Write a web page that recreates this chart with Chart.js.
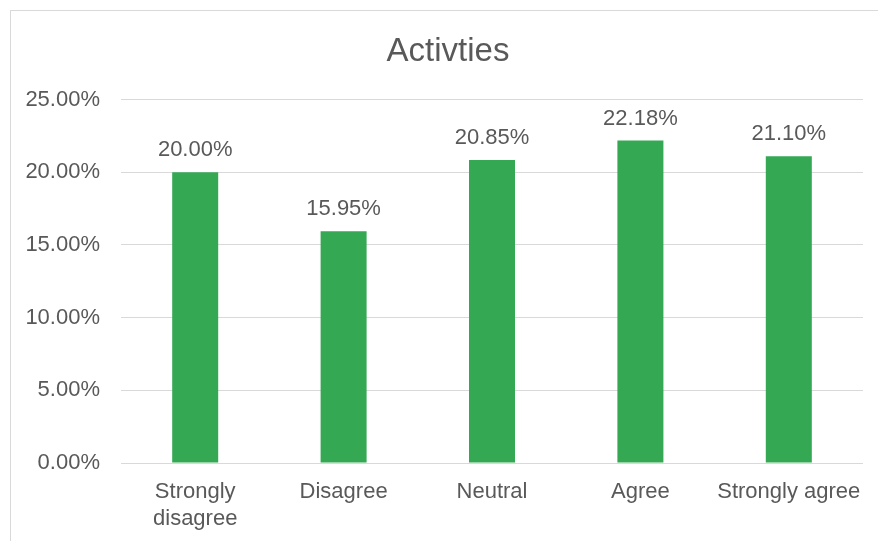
<!DOCTYPE html>
<html>
<head>
<meta charset="utf-8">
<script src="https://cdn.jsdelivr.net/npm/chart.js@4"></script>
<style>
  body { margin: 0; background: #fff; }
  #frame { position: absolute; left: 10px; top: 10px; width: 900px; height: 600px; border: 1px solid #d9d9d9; }
  #activitiesChart { position: absolute; left: 0; top: 0; }
</style>
</head>
<body>
<div id="frame"></div>
<canvas id="activitiesChart" width="878" height="541"></canvas>
<script>
const categories = [["Strongly", "disagree"], "Disagree", "Neutral", "Agree", "Strongly agree"];
const percentValues = [20.00, 15.95, 20.85, 22.18, 21.10];
const yTicks = [0, 5, 10, 15, 20, 25];

const textColor = "#595959";
const fontFamily = "'Liberation Sans', Arial, sans-serif";

// draws the value above each bar
const barLabels = {
    id: "barLabels",
    afterDatasetsDraw(chart) {
        const ctx = chart.ctx;
        const meta = chart.getDatasetMeta(0);
        ctx.save();
        ctx.font = "22px " + fontFamily;
        ctx.fillStyle = textColor;
        ctx.textAlign = "center";
        ctx.textBaseline = "alphabetic";
        meta.data.forEach((bar, i) => {
            ctx.fillText(percentValues[i].toFixed(2) + "%", bar.x, bar.y - 16);
        });
        ctx.restore();
    }
};

// title sits a bit right of the canvas centre in the original
const titleShift = {
    id: "titleShift",
    afterLayout(chart) {
        if (chart.titleBlock) chart.titleBlock.left = 33;
    }
};

const ctx = document.getElementById("activitiesChart").getContext("2d");

new Chart(ctx, {
    type: "bar",
    data: {
        labels: categories,
        datasets: [{
            data: percentValues,
            backgroundColor: "#34A853",
            barPercentage: 0.31,
            categoryPercentage: 1
        }]
    },
    options: {
        responsive: false,
        animation: false,
        layout: { padding: { left: 0, right: 15, top: 0, bottom: 0 } },
        plugins: {
            legend: { display: false },
            tooltip: { enabled: false },
            title: {
                display: true,
                text: "Activties",
                color: textColor,
                font: { family: fontFamily, size: 33, weight: "normal" },
                padding: { top: 32, bottom: 28 }
            }
        },
        scales: {
            x: {
                grid: { display: false },
                border: { display: false },
                ticks: {
                    color: textColor,
                    font: { family: fontFamily, size: 22, lineHeight: 1.2 },
                    padding: 8,
                    maxRotation: 0,
                    autoSkip: false
                },
                afterFit: scale => { scale.height = 78; }
            },
            y: {
                min: 0,
                max: 25,
                afterBuildTicks: scale => { scale.ticks = yTicks.map(v => ({ value: v })); },
                grid: { color: "#d9d9d9", lineWidth: 1, drawTicks: false },
                border: { display: false },
                ticks: {
                    color: textColor,
                    font: { family: fontFamily, size: 22 },
                    padding: 21,
                    callback: v => v.toFixed(2) + "%"
                },
                afterFit: scale => { scale.width = 121; }
            }
        }
    },
    plugins: [barLabels, titleShift]
});
</script>
</body>
</html>
